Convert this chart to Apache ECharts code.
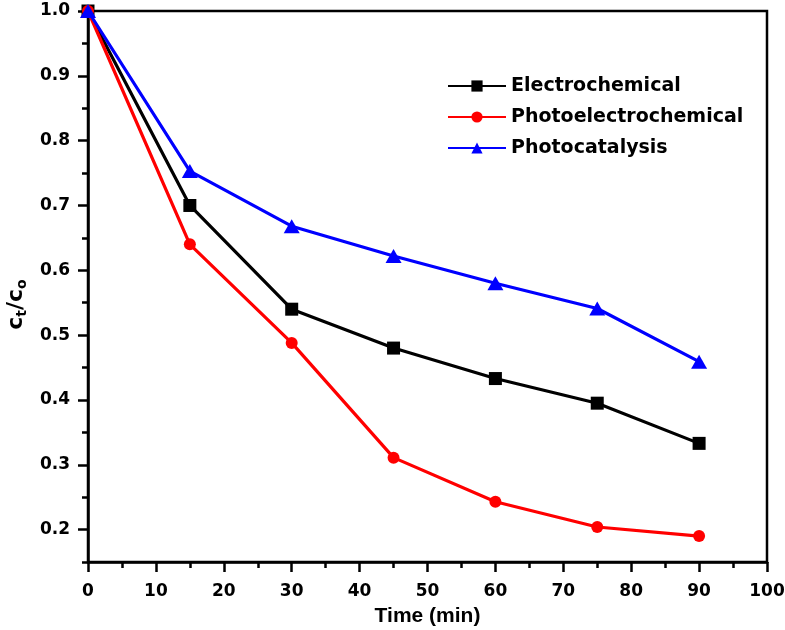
<!DOCTYPE html>
<html>
<head>
<meta charset="utf-8">
<script src="https://cdn.jsdelivr.net/npm/echarts@6/dist/echarts.min.js"></script>
<style>html,body{margin:0;padding:0;background:#fff;}#c{width:785px;height:630px;}</style>
</head>
<body>
<div id="c"></div>
<script>
const times = [0, 15, 30, 45, 60, 75, 90];
const electrochemical = [1.0, 0.70, 0.54, 0.48, 0.433, 0.395, 0.333];
const photoelectrochemical = [1.0, 0.64, 0.488, 0.311, 0.243, 0.204, 0.19];
const photocatalysis = [1.0, 0.753, 0.668, 0.622, 0.58, 0.541, 0.459];
const yMajorTicks = [0.2, 0.3, 0.4, 0.5, 0.6, 0.7, 0.8, 0.9, 1.0];
const seriesNames = ['Electrochemical', 'Photoelectrochemical', 'Photocatalysis'];

const pairs = arr => times.map((t, i) => [t, arr[i]]);
const tickFont = { fontFamily: 'DejaVu Sans', fontWeight: 'bold', fontSize: 17, color: '#000' };

const chart = echarts.init(document.getElementById('c'), null, { renderer: 'canvas' });
chart.setOption({
  animation: false,
  backgroundColor: '#fff',
  grid: {
    left: 88, right: 18, top: 11, bottom: 68, containLabel: false, outerBoundsMode: 'none',
    show: true, borderColor: '#000', borderWidth: 2.5
  },
  legend: {
    orient: 'vertical', left: 442, top: 71,
    itemWidth: 58, itemHeight: 14, itemGap: 11,
    textStyle: { fontFamily: 'DejaVu Sans', fontWeight: 'bold', fontSize: 19, color: '#000', lineHeight: 20 },
    data: seriesNames
  },
  xAxis: {
    type: 'value', min: 0, max: 100, interval: 10,
    name: 'Time (min)', nameLocation: 'middle', nameGap: 44,
    nameTextStyle: { fontFamily: 'Liberation Sans', fontWeight: 'bold', fontSize: 21, color: '#000' },
    axisLine: { lineStyle: { color: '#000', width: 2.5 } },
    axisTick: { inside: false, length: 10, lineStyle: { color: '#000', width: 2.5 } },
    minorTick: { show: true, splitNumber: 2, length: 6, lineStyle: { color: '#000', width: 2.5 } },
    axisLabel: Object.assign({ margin: 21 }, tickFont),
    splitLine: { show: false }
  },
  yAxis: [{
    type: 'value', min: 0.15, max: 1.0, interval: 0.05, position: 'left',
    name: '{a|c}{b|t}{a|/c}{b|o}', nameLocation: 'middle', nameGap: 58, nameRotate: 90,
    nameTextStyle: {
      padding: [0, 36, 0, 0],
      rich: {
        a: { fontFamily: 'DejaVu Sans', fontWeight: 'bold', fontSize: 22, color: '#000' },
        b: { fontFamily: 'DejaVu Sans', fontWeight: 'bold', fontSize: 14, color: '#000', padding: [12, 0, 0, 0] }
      }
    },
    axisLine: { lineStyle: { color: '#000', width: 2.5 } },
    axisTick: { inside: false, length: 10, customValues: yMajorTicks, lineStyle: { color: '#000', width: 2.5 } },
    axisLabel: Object.assign({
      margin: 18,
      customValues: yMajorTicks,
      formatter: v => v.toFixed(1)
    }, tickFont),
    splitLine: { show: false }
  }, {
    type: 'value', min: 0.15, max: 1.0, interval: 0.05, position: 'left',
    axisLine: { show: false },
    axisTick: { inside: false, length: 6, lineStyle: { color: '#000', width: 2.5 } },
    axisLabel: { show: false },
    splitLine: { show: false }
  }],
  series: [
    {
      name: seriesNames[0], type: 'line', data: pairs(electrochemical),
      symbol: 'rect', symbolSize: 13,
      lineStyle: { color: '#000', width: 3.2 }, itemStyle: { color: '#000' }
    },
    {
      name: seriesNames[1], type: 'line', data: pairs(photoelectrochemical),
      symbol: 'circle', symbolSize: 12,
      lineStyle: { color: '#ff0000', width: 3.2 }, itemStyle: { color: '#ff0000' }
    },
    {
      name: seriesNames[2], type: 'line', data: pairs(photocatalysis),
      symbol: 'triangle', symbolSize: [16, 14],
      lineStyle: { color: '#0000ff', width: 3.2 }, itemStyle: { color: '#0000ff' }
    }
  ]
});
</script>
</body>
</html>
